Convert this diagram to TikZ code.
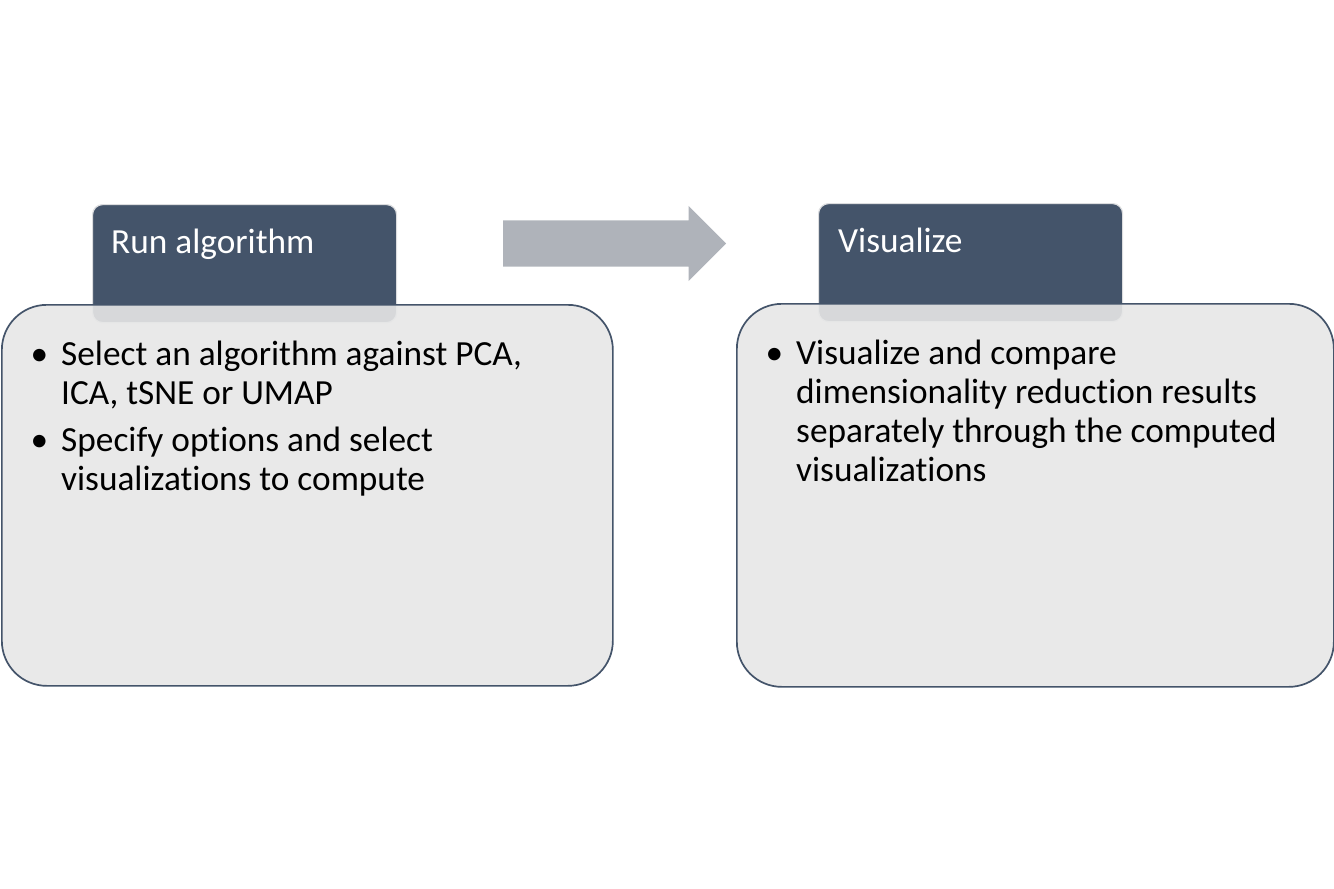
\documentclass[tikz,border=0pt]{standalone}
\usepackage{fontspec}
\setmainfont{Carlito}[Ligatures=NoCommon]
\usepackage{enumitem}
\usetikzlibrary{positioning,shapes.arrows}
\definecolor{slate}{HTML}{44546A}
\definecolor{panel}{HTML}{E7E7E7}
\definecolor{arrowgray}{HTML}{AFB3BA}
\definecolor{rim}{HTML}{DCDDDF}
\newcommand{\plainspaces}{\raggedright\spaceskip=0pt\xspaceskip=0pt}
\begin{document}
\begin{tikzpicture}[x=1pt, y=-1pt,
    header/.style={draw=rim, line width=1.2pt, fill=slate, rounded corners=10pt,
        minimum width=304pt, minimum height=118pt, inner sep=0pt, anchor=north west},
    panelbox/.style={draw=slate, line width=1.7pt, fill=panel, fill opacity=0.9,
        rounded corners=45pt, minimum height=381pt, inner sep=0pt, anchor=north west},
    headtext/.style={text=white, font=\fontsize{35.3}{39}\selectfont, inner sep=0pt, anchor=base west},
    bullets/.style={font=\fontsize{35.3}{39}\selectfont, text width=600pt, inner sep=0pt, anchor=north west},
    flowarrow/.style={single arrow, fill=arrowgray, minimum height=223pt, inner xsep=0pt, inner ysep=23pt,
        single arrow head extend=14.5pt, single arrow head indent=0pt}
]
    \useasboundingbox (0,0) rectangle (1334,889);

    % left step
    \node[header] (runhead) at (92,204) {};
    \node[panelbox, minimum width=611pt] (runbody) at (1,304) {};
    \node[headtext] (runtitle) at ([xshift=19pt, yshift=-49pt]runhead.north west) {Run algorithm};
    \node[bullets] (runitems) at ([xshift=29pt, yshift=-22pt]runbody.north west) {\plainspaces
        \begin{itemize}[leftmargin=31pt, labelsep=13pt, itemsep=8pt, topsep=0pt, parsep=0pt, partopsep=0pt]
            \item Select an algorithm against PCA,\\ICA, tSNE or UMAP
            \item Specify options and select\\visualizations to compute
        \end{itemize}};

    % block arrow
    \node[flowarrow, anchor=west] (flow) at (503,243.5) {};

    % right step
    \node[header] (vishead) at (818,203) {};
    \node[panelbox, minimum width=597pt, minimum height=383pt] (visbody) at (736,303) {};
    \node[headtext] (vistitle) at ([xshift=20pt, yshift=-49pt]vishead.north west) {Visualize};
    \node[bullets] (visitems) at ([xshift=29pt, yshift=-22pt]visbody.north west) {\plainspaces
        \begin{itemize}[leftmargin=31pt, labelsep=13pt, itemsep=8pt, topsep=0pt, parsep=0pt, partopsep=0pt]
            \item Visualize and compare\\dimensionality reduction results\\separately through the computed\\visualizations
        \end{itemize}};
\end{tikzpicture}
\end{document}
